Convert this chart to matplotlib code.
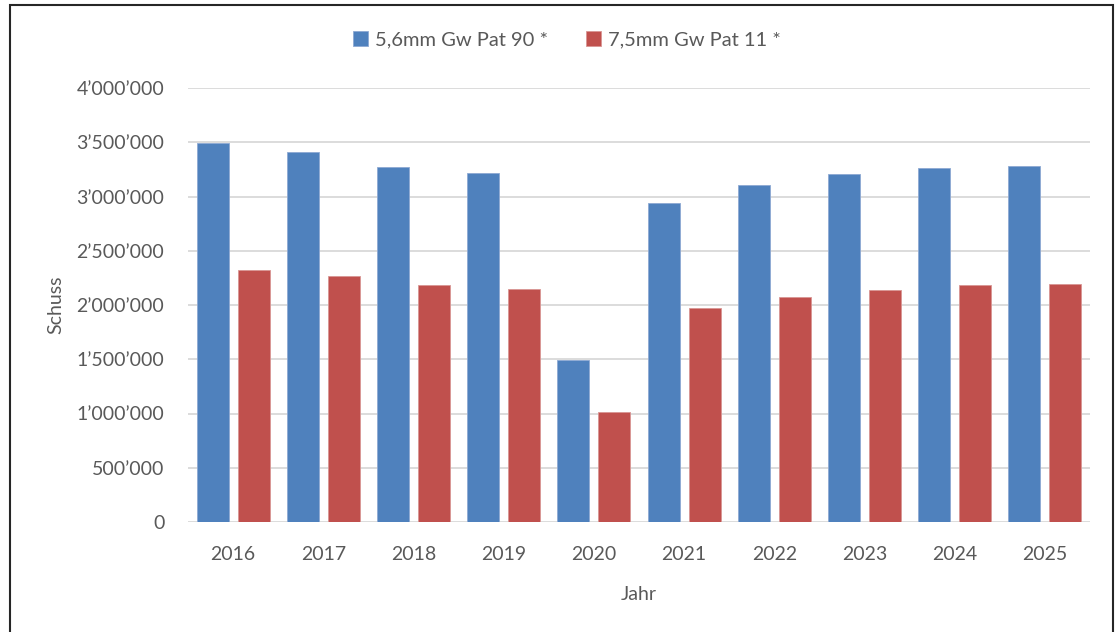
import matplotlib
matplotlib.use("Agg")
import matplotlib.pyplot as plt
import numpy as np
from matplotlib.ticker import FuncFormatter, MultipleLocator
from matplotlib.patches import Rectangle

# data
jahre = ["2016", "2017", "2018", "2019", "2020", "2021", "2022", "2023", "2024", "2025"]
serie_56 = [3490000, 3410000, 3270000, 3220000, 1490000, 2940000, 3110000, 3210000, 3260000, 3280000]
serie_75 = [2320000, 2270000, 2185000, 2150000, 1010000, 1970000, 2075000, 2140000, 2180000, 2190000]
namen = ["5,6mm Gw Pat 90 *", "7,5mm Gw Pat 11 *"]

blau = "#4F81BD"
rot = "#C0504D"
grau = "#595959"

plt.rcParams['font.family'] = ['Lato', 'DejaVu Sans']

fig = plt.figure(figsize=(11.17, 6.32), dpi=100)
ax = fig.add_axes([188/1117, 110/632, (1090-188)/1117, (522-88)/632])

x = np.arange(len(jahre))
w = 0.355
off = 0.227
ax.bar(x - off, serie_56, w, color=blau, edgecolor="#8EA9D3", linewidth=0.6, label=namen[0], zorder=3)
ax.bar(x + off, serie_75, w, color=rot, edgecolor="#D99694", linewidth=0.6, label=namen[1], zorder=3)

ax.set_xlim(-0.5, len(jahre) - 0.5)
ax.set_ylim(0, 4000000)
ax.yaxis.set_major_locator(MultipleLocator(500000))
ax.yaxis.set_major_formatter(FuncFormatter(lambda v, p: "{:,}".format(int(v)).replace(",", "\u2019")))
ax.set_xticks(x)
ax.set_xticklabels(jahre)

ax.grid(axis="y", color="#D9D9D9", linewidth=1.3, zorder=0)
for s in ax.spines.values():
    s.set_visible(False)
ax.tick_params(length=0, labelsize=14, labelcolor=grau)
ax.tick_params(axis="y", pad=17)
ax.tick_params(axis="x", pad=17.5)

ax.set_ylabel("Schuss", fontsize=14, color=grau, labelpad=9)
ax.set_xlabel("Jahr", fontsize=14, color=grau, labelpad=16)

leg = fig.legend(loc="center", bbox_to_anchor=(567/1117, 1 - 40/632), ncol=2, frameon=False,
                 fontsize=14.5, handlelength=0.75, handleheight=0.75, columnspacing=1.9, handletextpad=0.35)
for t in leg.get_texts():
    t.set_color(grau)

# chart area border as in the screenshot
fig.patches.append(Rectangle((10/1117, -0.1), (1113-10)/1117, 1.1 - 5/632, transform=fig.transFigure,
                             fill=False, edgecolor="#262626", linewidth=1.5))

fig.savefig("out.png", dpi=100)
